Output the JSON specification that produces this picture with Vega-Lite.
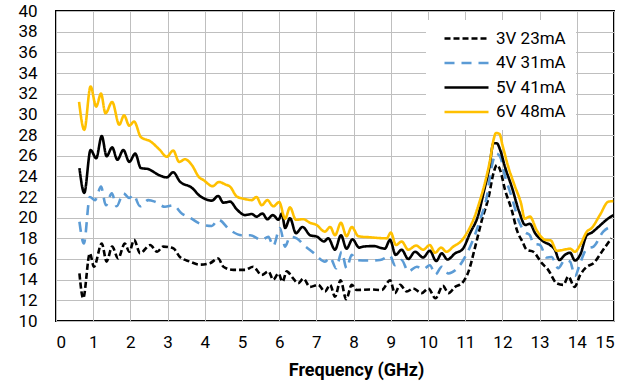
{
  "$schema": "https://vega.github.io/schema/vega-lite/v6.json",
  "width": 558,
  "height": 310,
  "autosize": "none",
  "padding": {"left": 56, "top": 11, "right": 28, "bottom": 65},
  "background": "white",
  "config": {
    "view": {"stroke": "#000000", "strokeWidth": 2},
    "font": "Roboto"
  },
  "data": {"values": [
{"s":"3V 23mA","f":0.63,"v":14.6},{"s":"3V 23mA","f":0.73,"v":12.2},{"s":"3V 23mA","f":0.91,"v":16.55},{"s":"3V 23mA","f":1.02,"v":15.25},{"s":"3V 23mA","f":1.23,"v":17.5},{"s":"3V 23mA","f":1.36,"v":15.75},{"s":"3V 23mA","f":1.51,"v":17.2},{"s":"3V 23mA","f":1.67,"v":16.05},{"s":"3V 23mA","f":1.85,"v":17.5},{"s":"3V 23mA","f":1.97,"v":16.7},{"s":"3V 23mA","f":2.1,"v":17.85},{"s":"3V 23mA","f":2.26,"v":16.55},{"s":"3V 23mA","f":2.53,"v":17.35},{"s":"3V 23mA","f":2.72,"v":16.7},{"s":"3V 23mA","f":2.88,"v":17.2},{"s":"3V 23mA","f":3.15,"v":17.05},{"s":"3V 23mA","f":3.33,"v":16.2},{"s":"3V 23mA","f":3.6,"v":15.75},{"s":"3V 23mA","f":3.87,"v":15.45},{"s":"3V 23mA","f":4.14,"v":15.6},{"s":"3V 23mA","f":4.36,"v":16.05},{"s":"3V 23mA","f":4.5,"v":15.25},{"s":"3V 23mA","f":4.77,"v":14.95},{"s":"3V 23mA","f":5.08,"v":14.95},{"s":"3V 23mA","f":5.3,"v":15.25},{"s":"3V 23mA","f":5.53,"v":14.45},{"s":"3V 23mA","f":5.71,"v":14.8},{"s":"3V 23mA","f":5.84,"v":14.0},{"s":"3V 23mA","f":5.98,"v":14.6},{"s":"3V 23mA","f":6.09,"v":13.8},{"s":"3V 23mA","f":6.2,"v":14.8},{"s":"3V 23mA","f":6.38,"v":14.1},{"s":"3V 23mA","f":6.51,"v":13.65},{"s":"3V 23mA","f":6.65,"v":14.1},{"s":"3V 23mA","f":6.83,"v":13.3},{"s":"3V 23mA","f":7.05,"v":13.5},{"s":"3V 23mA","f":7.23,"v":12.85},{"s":"3V 23mA","f":7.37,"v":13.5},{"s":"3V 23mA","f":7.5,"v":12.35},{"s":"3V 23mA","f":7.65,"v":13.95},{"s":"3V 23mA","f":7.8,"v":12.1},{"s":"3V 23mA","f":7.95,"v":13.5},{"s":"3V 23mA","f":8.08,"v":13.0},{"s":"3V 23mA","f":8.44,"v":13.05},{"s":"3V 23mA","f":8.76,"v":13.0},{"s":"3V 23mA","f":8.98,"v":13.95},{"s":"3V 23mA","f":9.11,"v":12.7},{"s":"3V 23mA","f":9.25,"v":13.5},{"s":"3V 23mA","f":9.43,"v":12.85},{"s":"3V 23mA","f":9.6,"v":13.15},{"s":"3V 23mA","f":9.83,"v":12.7},{"s":"3V 23mA","f":10.01,"v":13.15},{"s":"3V 23mA","f":10.2,"v":12.2},{"s":"3V 23mA","f":10.4,"v":13.4},{"s":"3V 23mA","f":10.55,"v":12.7},{"s":"3V 23mA","f":10.73,"v":13.3},{"s":"3V 23mA","f":10.91,"v":13.65},{"s":"3V 23mA","f":11.09,"v":14.8},{"s":"3V 23mA","f":11.27,"v":17.2},{"s":"3V 23mA","f":11.45,"v":19.8},{"s":"3V 23mA","f":11.63,"v":22.0},{"s":"3V 23mA","f":11.76,"v":24.3},{"s":"3V 23mA","f":11.85,"v":25.1},{"s":"3V 23mA","f":11.94,"v":24.6},{"s":"3V 23mA","f":12.07,"v":22.7},{"s":"3V 23mA","f":12.25,"v":20.75},{"s":"3V 23mA","f":12.39,"v":18.8},{"s":"3V 23mA","f":12.55,"v":17.6},{"s":"3V 23mA","f":12.65,"v":16.9},{"s":"3V 23mA","f":12.83,"v":16.7},{"s":"3V 23mA","f":13.06,"v":15.6},{"s":"3V 23mA","f":13.23,"v":14.95},{"s":"3V 23mA","f":13.46,"v":13.65},{"s":"3V 23mA","f":13.64,"v":13.5},{"s":"3V 23mA","f":13.77,"v":14.3},{"s":"3V 23mA","f":13.94,"v":13.3},{"s":"3V 23mA","f":14.09,"v":14.45},{"s":"3V 23mA","f":14.27,"v":15.25},{"s":"3V 23mA","f":14.45,"v":15.6},{"s":"3V 23mA","f":14.71,"v":16.9},{"s":"3V 23mA","f":14.93,"v":18.0},
{"s":"4V 31mA","f":0.63,"v":19.6},{"s":"4V 31mA","f":0.75,"v":17.5},{"s":"4V 31mA","f":0.91,"v":22.0},{"s":"4V 31mA","f":1.05,"v":21.7},{"s":"4V 31mA","f":1.21,"v":23.0},{"s":"4V 31mA","f":1.34,"v":21.2},{"s":"4V 31mA","f":1.5,"v":22.35},{"s":"4V 31mA","f":1.63,"v":21.1},{"s":"4V 31mA","f":1.81,"v":22.35},{"s":"4V 31mA","f":1.97,"v":21.9},{"s":"4V 31mA","f":2.08,"v":22.2},{"s":"4V 31mA","f":2.26,"v":21.1},{"s":"4V 31mA","f":2.48,"v":21.7},{"s":"4V 31mA","f":2.66,"v":21.55},{"s":"4V 31mA","f":2.93,"v":21.05},{"s":"4V 31mA","f":3.15,"v":21.2},{"s":"4V 31mA","f":3.38,"v":20.4},{"s":"4V 31mA","f":3.6,"v":20.0},{"s":"4V 31mA","f":3.85,"v":19.45},{"s":"4V 31mA","f":3.96,"v":19.3},{"s":"4V 31mA","f":4.19,"v":19.2},{"s":"4V 31mA","f":4.36,"v":19.8},{"s":"4V 31mA","f":4.68,"v":18.8},{"s":"4V 31mA","f":4.99,"v":18.3},{"s":"4V 31mA","f":5.22,"v":18.3},{"s":"4V 31mA","f":5.53,"v":17.85},{"s":"4V 31mA","f":5.71,"v":18.15},{"s":"4V 31mA","f":5.84,"v":17.25},{"s":"4V 31mA","f":6.02,"v":19.0},{"s":"4V 31mA","f":6.16,"v":17.2},{"s":"4V 31mA","f":6.29,"v":18.15},{"s":"4V 31mA","f":6.47,"v":18.0},{"s":"4V 31mA","f":6.69,"v":17.25},{"s":"4V 31mA","f":6.92,"v":16.6},{"s":"4V 31mA","f":7.05,"v":16.15},{"s":"4V 31mA","f":7.23,"v":15.75},{"s":"4V 31mA","f":7.37,"v":16.15},{"s":"4V 31mA","f":7.53,"v":15.1},{"s":"4V 31mA","f":7.68,"v":16.7},{"s":"4V 31mA","f":7.81,"v":15.1},{"s":"4V 31mA","f":7.95,"v":16.4},{"s":"4V 31mA","f":8.08,"v":15.9},{"s":"4V 31mA","f":8.35,"v":15.85},{"s":"4V 31mA","f":8.71,"v":15.9},{"s":"4V 31mA","f":8.98,"v":16.3},{"s":"4V 31mA","f":9.11,"v":15.4},{"s":"4V 31mA","f":9.29,"v":15.9},{"s":"4V 31mA","f":9.47,"v":14.8},{"s":"4V 31mA","f":9.7,"v":15.25},{"s":"4V 31mA","f":9.87,"v":15.0},{"s":"4V 31mA","f":10.05,"v":15.4},{"s":"4V 31mA","f":10.2,"v":14.5},{"s":"4V 31mA","f":10.37,"v":15.25},{"s":"4V 31mA","f":10.55,"v":14.6},{"s":"4V 31mA","f":10.73,"v":14.9},{"s":"4V 31mA","f":10.95,"v":15.9},{"s":"4V 31mA","f":11.17,"v":17.5},{"s":"4V 31mA","f":11.4,"v":19.8},{"s":"4V 31mA","f":11.58,"v":22.0},{"s":"4V 31mA","f":11.71,"v":24.9},{"s":"4V 31mA","f":11.83,"v":26.2},{"s":"4V 31mA","f":11.94,"v":25.9},{"s":"4V 31mA","f":12.07,"v":24.0},{"s":"4V 31mA","f":12.25,"v":22.0},{"s":"4V 31mA","f":12.45,"v":19.6},{"s":"4V 31mA","f":12.61,"v":18.6},{"s":"4V 31mA","f":12.74,"v":18.3},{"s":"4V 31mA","f":12.83,"v":17.5},{"s":"4V 31mA","f":13.01,"v":17.35},{"s":"4V 31mA","f":13.19,"v":16.15},{"s":"4V 31mA","f":13.32,"v":16.2},{"s":"4V 31mA","f":13.5,"v":15.1},{"s":"4V 31mA","f":13.68,"v":15.9},{"s":"4V 31mA","f":13.82,"v":15.75},{"s":"4V 31mA","f":13.95,"v":14.35},{"s":"4V 31mA","f":14.09,"v":15.6},{"s":"4V 31mA","f":14.27,"v":17.0},{"s":"4V 31mA","f":14.45,"v":17.2},{"s":"4V 31mA","f":14.71,"v":18.65},{"s":"4V 31mA","f":14.98,"v":19.2},
{"s":"5V 41mA","f":0.63,"v":24.8},{"s":"5V 41mA","f":0.76,"v":22.4},{"s":"5V 41mA","f":0.93,"v":26.55},{"s":"5V 41mA","f":1.08,"v":25.75},{"s":"5V 41mA","f":1.23,"v":27.9},{"s":"5V 41mA","f":1.36,"v":25.95},{"s":"5V 41mA","f":1.51,"v":26.8},{"s":"5V 41mA","f":1.65,"v":25.6},{"s":"5V 41mA","f":1.81,"v":26.55},{"s":"5V 41mA","f":1.97,"v":25.4},{"s":"5V 41mA","f":2.13,"v":26.2},{"s":"5V 41mA","f":2.28,"v":24.8},{"s":"5V 41mA","f":2.48,"v":24.7},{"s":"5V 41mA","f":2.78,"v":24.1},{"s":"5V 41mA","f":2.98,"v":23.9},{"s":"5V 41mA","f":3.15,"v":24.4},{"s":"5V 41mA","f":3.33,"v":23.5},{"s":"5V 41mA","f":3.65,"v":22.9},{"s":"5V 41mA","f":3.87,"v":22.1},{"s":"5V 41mA","f":3.96,"v":21.9},{"s":"5V 41mA","f":4.19,"v":21.65},{"s":"5V 41mA","f":4.36,"v":22.1},{"s":"5V 41mA","f":4.5,"v":21.45},{"s":"5V 41mA","f":4.68,"v":21.55},{"s":"5V 41mA","f":4.86,"v":20.8},{"s":"5V 41mA","f":5.08,"v":20.25},{"s":"5V 41mA","f":5.26,"v":20.35},{"s":"5V 41mA","f":5.39,"v":20.1},{"s":"5V 41mA","f":5.55,"v":20.4},{"s":"5V 41mA","f":5.68,"v":19.85},{"s":"5V 41mA","f":5.83,"v":20.25},{"s":"5V 41mA","f":5.98,"v":19.8},{"s":"5V 41mA","f":6.07,"v":20.4},{"s":"5V 41mA","f":6.16,"v":19.0},{"s":"5V 41mA","f":6.29,"v":19.95},{"s":"5V 41mA","f":6.45,"v":18.5},{"s":"5V 41mA","f":6.63,"v":19.1},{"s":"5V 41mA","f":6.83,"v":18.3},{"s":"5V 41mA","f":7.02,"v":18.15},{"s":"5V 41mA","f":7.2,"v":17.7},{"s":"5V 41mA","f":7.32,"v":18.0},{"s":"5V 41mA","f":7.5,"v":16.9},{"s":"5V 41mA","f":7.66,"v":18.3},{"s":"5V 41mA","f":7.81,"v":17.0},{"s":"5V 41mA","f":7.97,"v":17.9},{"s":"5V 41mA","f":8.15,"v":17.1},{"s":"5V 41mA","f":8.26,"v":17.2},{"s":"5V 41mA","f":8.53,"v":17.25},{"s":"5V 41mA","f":8.84,"v":17.0},{"s":"5V 41mA","f":8.98,"v":17.85},{"s":"5V 41mA","f":9.13,"v":16.4},{"s":"5V 41mA","f":9.29,"v":16.9},{"s":"5V 41mA","f":9.47,"v":16.0},{"s":"5V 41mA","f":9.65,"v":16.7},{"s":"5V 41mA","f":9.87,"v":16.15},{"s":"5V 41mA","f":10.05,"v":16.8},{"s":"5V 41mA","f":10.22,"v":15.8},{"s":"5V 41mA","f":10.37,"v":16.55},{"s":"5V 41mA","f":10.52,"v":15.95},{"s":"5V 41mA","f":10.73,"v":16.55},{"s":"5V 41mA","f":10.93,"v":16.95},{"s":"5V 41mA","f":11.13,"v":18.5},{"s":"5V 41mA","f":11.35,"v":20.25},{"s":"5V 41mA","f":11.49,"v":22.35},{"s":"5V 41mA","f":11.65,"v":24.9},{"s":"5V 41mA","f":11.76,"v":27.2},{"s":"5V 41mA","f":11.85,"v":27.2},{"s":"5V 41mA","f":11.94,"v":26.55},{"s":"5V 41mA","f":12.07,"v":24.9},{"s":"5V 41mA","f":12.25,"v":23.0},{"s":"5V 41mA","f":12.45,"v":20.6},{"s":"5V 41mA","f":12.61,"v":19.3},{"s":"5V 41mA","f":12.74,"v":19.4},{"s":"5V 41mA","f":12.88,"v":18.5},{"s":"5V 41mA","f":13.1,"v":17.7},{"s":"5V 41mA","f":13.28,"v":17.35},{"s":"5V 41mA","f":13.41,"v":16.9},{"s":"5V 41mA","f":13.53,"v":15.9},{"s":"5V 41mA","f":13.68,"v":16.4},{"s":"5V 41mA","f":13.82,"v":16.6},{"s":"5V 41mA","f":13.95,"v":15.85},{"s":"5V 41mA","f":14.09,"v":16.4},{"s":"5V 41mA","f":14.27,"v":18.3},{"s":"5V 41mA","f":14.4,"v":18.55},{"s":"5V 41mA","f":14.58,"v":19.1},{"s":"5V 41mA","f":14.8,"v":19.8},{"s":"5V 41mA","f":14.98,"v":20.25},
{"s":"6V 48mA","f":0.62,"v":31.2},{"s":"6V 48mA","f":0.76,"v":28.5},{"s":"6V 48mA","f":0.93,"v":32.7},{"s":"6V 48mA","f":1.08,"v":30.75},{"s":"6V 48mA","f":1.21,"v":32.0},{"s":"6V 48mA","f":1.33,"v":30.1},{"s":"6V 48mA","f":1.51,"v":31.2},{"s":"6V 48mA","f":1.7,"v":29.0},{"s":"6V 48mA","f":1.83,"v":29.9},{"s":"6V 48mA","f":1.97,"v":28.9},{"s":"6V 48mA","f":2.1,"v":29.3},{"s":"6V 48mA","f":2.28,"v":27.8},{"s":"6V 48mA","f":2.53,"v":27.4},{"s":"6V 48mA","f":2.78,"v":26.6},{"s":"6V 48mA","f":2.98,"v":25.9},{"s":"6V 48mA","f":3.15,"v":26.5},{"s":"6V 48mA","f":3.31,"v":25.4},{"s":"6V 48mA","f":3.47,"v":25.65},{"s":"6V 48mA","f":3.65,"v":25.1},{"s":"6V 48mA","f":3.85,"v":23.9},{"s":"6V 48mA","f":3.96,"v":23.65},{"s":"6V 48mA","f":4.21,"v":23.05},{"s":"6V 48mA","f":4.38,"v":23.45},{"s":"6V 48mA","f":4.56,"v":23.2},{"s":"6V 48mA","f":4.68,"v":23.0},{"s":"6V 48mA","f":4.86,"v":22.05},{"s":"6V 48mA","f":5.08,"v":21.8},{"s":"6V 48mA","f":5.26,"v":21.7},{"s":"6V 48mA","f":5.39,"v":22.0},{"s":"6V 48mA","f":5.53,"v":21.2},{"s":"6V 48mA","f":5.68,"v":21.7},{"s":"6V 48mA","f":5.84,"v":21.1},{"s":"6V 48mA","f":6.0,"v":21.5},{"s":"6V 48mA","f":6.16,"v":19.9},{"s":"6V 48mA","f":6.29,"v":21.0},{"s":"6V 48mA","f":6.45,"v":19.8},{"s":"6V 48mA","f":6.65,"v":19.85},{"s":"6V 48mA","f":6.83,"v":19.5},{"s":"6V 48mA","f":7.0,"v":19.3},{"s":"6V 48mA","f":7.23,"v":18.65},{"s":"6V 48mA","f":7.37,"v":19.1},{"s":"6V 48mA","f":7.5,"v":18.3},{"s":"6V 48mA","f":7.66,"v":19.5},{"s":"6V 48mA","f":7.81,"v":18.2},{"s":"6V 48mA","f":7.95,"v":19.1},{"s":"6V 48mA","f":8.13,"v":18.2},{"s":"6V 48mA","f":8.44,"v":18.1},{"s":"6V 48mA","f":8.89,"v":18.0},{"s":"6V 48mA","f":9.0,"v":18.55},{"s":"6V 48mA","f":9.14,"v":17.35},{"s":"6V 48mA","f":9.29,"v":17.7},{"s":"6V 48mA","f":9.47,"v":16.9},{"s":"6V 48mA","f":9.68,"v":17.3},{"s":"6V 48mA","f":9.87,"v":16.9},{"s":"6V 48mA","f":10.05,"v":17.35},{"s":"6V 48mA","f":10.19,"v":16.6},{"s":"6V 48mA","f":10.35,"v":17.1},{"s":"6V 48mA","f":10.5,"v":16.7},{"s":"6V 48mA","f":10.68,"v":17.2},{"s":"6V 48mA","f":10.91,"v":17.8},{"s":"6V 48mA","f":11.09,"v":18.8},{"s":"6V 48mA","f":11.22,"v":19.8},{"s":"6V 48mA","f":11.4,"v":21.7},{"s":"6V 48mA","f":11.54,"v":23.5},{"s":"6V 48mA","f":11.67,"v":25.6},{"s":"6V 48mA","f":11.76,"v":27.5},{"s":"6V 48mA","f":11.83,"v":28.2},{"s":"6V 48mA","f":11.92,"v":28.1},{"s":"6V 48mA","f":12.01,"v":26.9},{"s":"6V 48mA","f":12.16,"v":24.9},{"s":"6V 48mA","f":12.34,"v":23.0},{"s":"6V 48mA","f":12.5,"v":21.4},{"s":"6V 48mA","f":12.6,"v":19.9},{"s":"6V 48mA","f":12.74,"v":20.1},{"s":"6V 48mA","f":12.92,"v":18.8},{"s":"6V 48mA","f":13.15,"v":17.85},{"s":"6V 48mA","f":13.3,"v":17.8},{"s":"6V 48mA","f":13.46,"v":16.8},{"s":"6V 48mA","f":13.73,"v":16.95},{"s":"6V 48mA","f":13.82,"v":17.0},{"s":"6V 48mA","f":13.95,"v":16.7},{"s":"6V 48mA","f":14.09,"v":17.35},{"s":"6V 48mA","f":14.27,"v":18.65},{"s":"6V 48mA","f":14.4,"v":19.0},{"s":"6V 48mA","f":14.62,"v":20.25},{"s":"6V 48mA","f":14.85,"v":21.55},{"s":"6V 48mA","f":14.98,"v":21.6}
  ]},
  "mark": {"type": "line", "strokeWidth": 2.6, "interpolate": "monotone", "clip": true},
  "encoding": {
    "x": {"field": "f", "type": "quantitative", "scale": {"domain": [0, 15], "nice": false, "zero": false}, "axis": {"values": [0,1,2,3,4,5,6,7,8,9,10,11,12,13,14,15], "labelOverlap": false, "grid": true, "gridColor": "#BFBFBF", "gridWidth": 1, "domain": false, "ticks": false, "labelFontSize": 17, "labelColor": "#000000", "labelPadding": 13, "labelFont": "Roboto", "title": "Frequency (GHz)", "titleFont": "Roboto", "titleFontSize": 18, "titleFontWeight": "bold", "titleColor": "#000000", "titleX": 300, "titleY": 49, "titleBaseline": "middle", "titleAlign": "center", "titleAnchor": null}},
    "y": {"field": "v", "type": "quantitative", "scale": {"domain": [10, 40], "nice": false, "zero": false}, "axis": {"values": [10,12,14,16,18,20,22,24,26,28,30,32,34,36,38,40], "labelOverlap": false, "grid": true, "gridColor": "#BFBFBF", "gridWidth": 1, "domain": false, "ticks": false, "labelFontSize": 17, "labelColor": "#000000", "labelPadding": 19, "labelFont": "Roboto", "title": null}},
    "color": {"field": "s", "type": "nominal", "sort": ["3V 23mA", "4V 31mA", "5V 41mA", "6V 48mA"], "scale": {"domain": ["3V 23mA", "4V 31mA", "5V 41mA", "6V 48mA"], "range": ["#000000", "#5B9BD5", "#000000", "#FFC000"]}, "legend": {"orient": "none", "legendX": 370, "legendY": 9, "title": null, "symbolType": "M0,0H8", "symbolSize": 121, "symbolStrokeWidth": 2.6, "labelFontSize": 17, "labelFont": "Roboto", "labelColor": "#000000", "fillColor": "white", "padding": 10, "rowPadding": 6.5, "labelOffset": 43}},
    "strokeDash": {"field": "s", "type": "nominal", "sort": ["3V 23mA", "4V 31mA", "5V 41mA", "6V 48mA"], "scale": {"domain": ["3V 23mA", "4V 31mA", "5V 41mA", "6V 48mA"], "range": [[6, 3], [10, 7], [1, 0], [1, 0]]}, "legend": {"orient": "none", "legendX": 370, "legendY": 9, "title": null, "symbolType": "M0,0H8", "symbolSize": 121, "symbolStrokeWidth": 2.6, "labelFontSize": 17, "labelFont": "Roboto", "labelColor": "#000000", "fillColor": "white", "padding": 10, "rowPadding": 6.5, "labelOffset": 43}}
  }
}
